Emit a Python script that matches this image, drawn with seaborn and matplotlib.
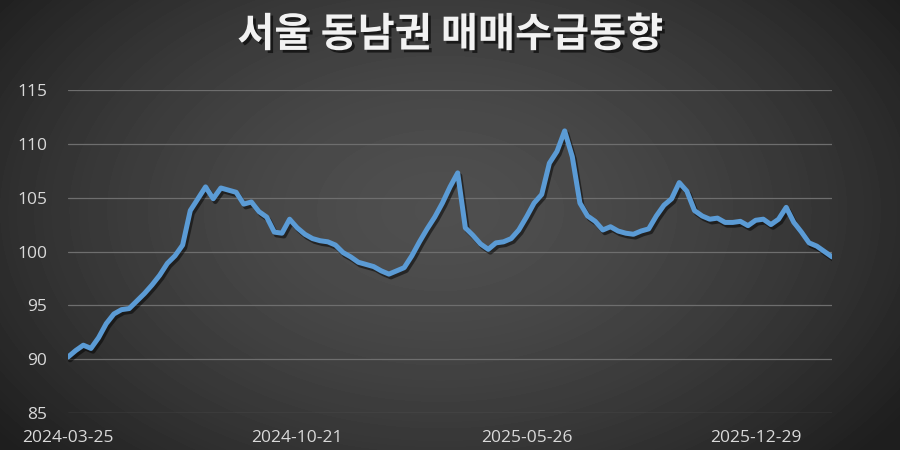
import matplotlib
matplotlib.use('Agg')
import matplotlib.pyplot as plt
import matplotlib.patheffects as pe
import seaborn as sns
import numpy as np
import pandas as pd

# weekly index values, 2024-03-25 onwards
values = [
    90.2, 90.8, 91.3, 91.0, 92.0, 93.3, 94.2, 94.6, 94.7, 95.4,
    96.1, 96.9, 97.8, 98.9, 99.6, 100.6, 103.8, 104.9, 106.0, 104.9,
    105.9, 105.7, 105.5, 104.4, 104.6, 103.7, 103.2, 101.8, 101.7, 103.0,
    102.2, 101.6, 101.2, 101.0, 100.9, 100.6, 99.9, 99.5, 99.0, 98.8,
    98.6, 98.2, 97.9, 98.2, 98.5, 99.6, 100.9, 102.1, 103.2, 104.5,
    106.0, 107.3, 102.2, 101.5, 100.7, 100.2, 100.8, 100.9, 101.2, 102.0,
    103.2, 104.5, 105.3, 108.2, 109.3, 111.2, 108.8, 104.5, 103.3, 102.8,
    102.0, 102.3, 101.9, 101.7, 101.6, 101.9, 102.1, 103.3, 104.3, 104.9,
    106.4, 105.6, 103.8, 103.3, 103.0, 103.1, 102.7, 102.7, 102.8, 102.4,
    102.9, 103.0, 102.5, 103.0, 104.1, 102.7, 101.8, 100.8, 100.5, 100.0,
    99.5,
]
tick_pos = [0, 30, 60, 90]
tick_labels = ['2024-03-25', '2024-10-21', '2025-05-26', '2025-12-29']
y_ticks = [85, 90, 95, 100, 105, 110, 115]
title = '서울 동남권 매매수급동향'

df = pd.DataFrame({'week': range(len(values)), 'value': values})

sns.set_style('dark')
plt.rcParams['font.family'] = ['Noto Sans CJK KR', 'DejaVu Sans']

fig = plt.figure(figsize=(9, 4.5), dpi=100)

# dark radial gradient background
bg = fig.add_axes([0, 0, 1, 1])
yy, xx = np.mgrid[0:450, 0:900]
r = np.sqrt(((xx - 440) / 520.0) ** 2 + ((yy - 210) / 340.0) ** 2)
shade = np.clip(0.31 - 0.17 * r ** 1.6, 0.12, 0.31)
bg.imshow(shade, cmap='gray', vmin=0, vmax=1, aspect='auto', extent=[0, 1, 0, 1])
bg.axis('off')

ax = fig.add_axes([0.0756, 0.0822, 0.8489, 0.7178])
ax.set_facecolor('none')

sns.lineplot(data=df, x='week', y='value', ax=ax, color='#5b9bd5', linewidth=3.6,
             path_effects=[pe.SimpleLineShadow(offset=(1.5, -2), shadow_color='black', alpha=0.5),
                           pe.Normal()])

ax.set_xlim(0, 100)
ax.set_ylim(85, 115)
ax.set_yticks(y_ticks)
ax.set_xticks(tick_pos)
ax.set_xticklabels(tick_labels)
ax.grid(axis='y', color='#6e6e6e', linewidth=0.9)
ax.grid(axis='x', visible=False)
ax.set_axisbelow(True)
ax.set_xlabel('')
ax.set_ylabel('')
for s in ax.spines.values():
    s.set_visible(False)
ax.tick_params(axis='both', length=0, colors='#d9d9d9', labelsize=12.5)
ax.tick_params(axis='x', pad=12)
ax.tick_params(axis='y', pad=15)
for lbl in ax.get_xticklabels() + ax.get_yticklabels():
    lbl.set_family(['Open Sans', 'DejaVu Sans'])

fig.text(0.5, 0.922, title, ha='center', va='center', color='#f2f2f2',
         fontsize=29, fontweight='bold',
         path_effects=[pe.withSimplePatchShadow(offset=(2, -2), shadow_rgbFace='black', alpha=0.6)])

fig.savefig('out.png', dpi=100)
